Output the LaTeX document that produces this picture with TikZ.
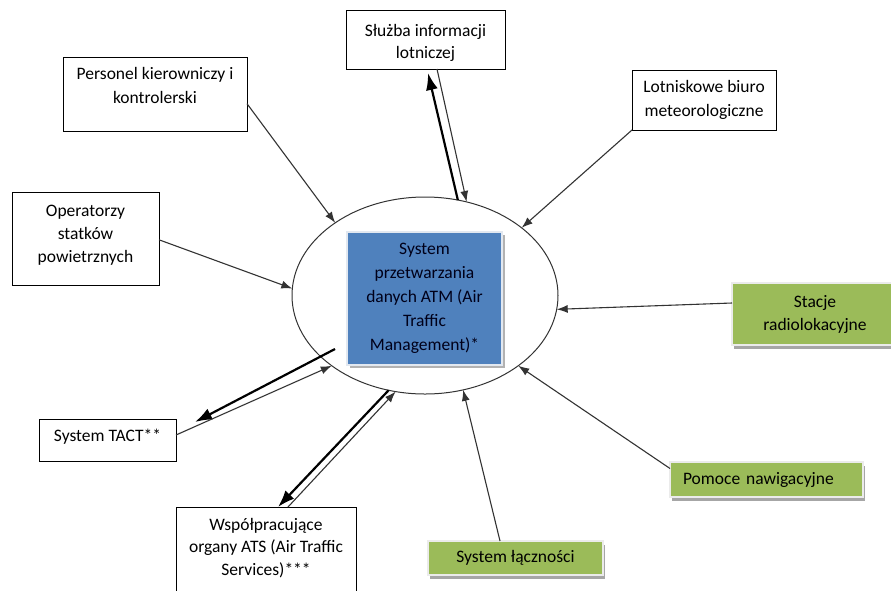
\documentclass[tikz,border=0pt]{standalone}
\usepackage{fontspec}
\setmainfont{Carlito}
\usetikzlibrary{arrows.meta,shapes.geometric,shadows,calc}
\definecolor{offgreen}{HTML}{9BBB59}
\definecolor{offblue}{HTML}{4F81BD}
\definecolor{offframe}{HTML}{E2E8F0}
\newcommand{\topbox}[4]{\parbox[c][#2pt][t]{#1pt}{\centering\rule{0pt}{#3pt}#4}}
\begin{document}
\begin{tikzpicture}[x=1pt,y=-1pt,
  font=\fontsize{17.5}{23}\selectfont,
  wbox/.style={draw=black, line width=0.9pt, fill=white, inner sep=0pt, outer sep=0pt, text=black},
  gbox/.style={draw=white!92!black, line width=1.6pt, fill=offgreen, inner sep=0pt, outer sep=0pt, text=black,
     drop shadow={shadow xshift=2pt, shadow yshift=-4pt, fill=black!35, opacity=1}},
  abox/.style={draw=offframe, line width=2pt, fill=offblue, inner sep=0pt, outer sep=0pt, text=black!90!blue, align=center,
     font=\fontsize{17.5}{24}\selectfont,
     drop shadow={shadow xshift=3pt, shadow yshift=-3pt, fill=black!30, opacity=1}},
  conn/.style={draw=black!80, line width=1.1pt, -{Latex[length=11pt,width=8pt]}},
  heavy/.style={draw=black, line width=2.2pt, -{Latex[length=17pt,width=12pt]}}
]
\useasboundingbox (0,0) rectangle (891,590);
\fill[white] (0,0) rectangle (891,590);
\clip (0,0) rectangle (891,590);

% central ellipse and box
\node[ellipse, draw=black!80, line width=1pt, fill=white, minimum width=266, minimum height=197, inner sep=0pt, outer sep=0pt] (ell) at (425,295.5) {};
\node[abox, minimum width=155, minimum height=133] (atm) at (424.5,298.5)
  {System\\przetwarzania\\danych ATM (Air\\Traffic\\Management)*};

% white boxes
\node[wbox, minimum width=159, minimum height=59] (sluz) at (425.5,39.5)
  {\fontsize{17.5}{22}\selectfont\topbox{159}{59}{26}{Służba informacji\\lotniczej}};
\node[wbox, minimum width=184, minimum height=74] (pers) at (155,94)
  {\fontsize{17.5}{24}\selectfont\topbox{184}{74}{22}{Personel kierowniczy i\\kontrolerski}};
\node[wbox, minimum width=144, minimum height=60] (lot) at (704,100)
  {\fontsize{17.5}{24}\selectfont\topbox{144}{60}{22}{Lotniskowe biuro\\meteorologiczne}};
\node[wbox, minimum width=147, minimum height=93] (op) at (85.5,238.5)
  {\topbox{147}{93}{24.5}{Operatorzy\\statków\\powietrznych}};
\node[wbox, minimum width=137, minimum height=42] (tact) at (107.5,440)
  {\topbox{137}{42}{22}{System TACT**}};
\node[wbox, minimum width=180, minimum height=103] (ats) at (266,558.5)
  {\fontsize{17.5}{22.5}\selectfont\topbox{180}{103}{23}{Współpracujące\\organy ATS (Air Traffic\\Services)***}};

% green boxes
\node[gbox, minimum width=166, minimum height=62, align=center] (sta) at (815,314) {Stacje\\radiolokacyjne};
\node[gbox, minimum width=193, minimum height=35, align=left, text width=167, inner xsep=13pt] (pom) at (766.5,479.5) {Pomoce nawigacyjne};
\node[gbox, minimum width=175, minimum height=34] (lacz) at (515.5,558) {System łączności};

% connectors into the ellipse
\draw[conn] (pers.-6.8) -- (ell.141);
\draw[conn] (op.-1) -- (ell.177);
\draw[conn] (lot.south west) -- (ell.35);
\draw[conn] ($(sta.west)+(0,-11)$) -- (ell.-6);
\draw[conn] ($(pom.west)+(0,-11)$) -- (ell.-37);
\draw[conn] ($(lacz.north)+(-15.5,0)$) -- (ell.-68.5);

% Służba informacji lotniczej (two-way)
\draw[heavy] (ell.71.3) -- ($(sluz.south)+(2.5,4)$);
\draw[conn] ($(sluz.south)+(11.5,0)$) -- (ell.66);

% System TACT (two-way)
\coordinate (tactstart) at ($(atm.south west)+(-12,-16)$);
\draw[heavy] (tactstart) -- ($(tact.north east)+(19,3)$);
\draw[conn] ($(tact.east)+(0,-5)$) -- (ell.-143);

% Współpracujące organy ATS (two-way)
\draw[heavy] (ell.-111) -- ($(ats.north)+(12,0)$);
\draw[conn] ($(ats.north)+(22,0)$) -- (ell.-107);
\end{tikzpicture}
\end{document}
